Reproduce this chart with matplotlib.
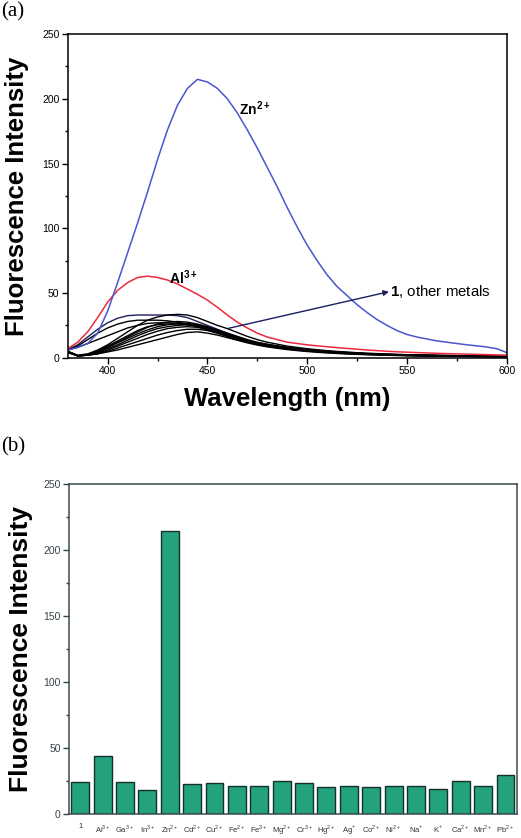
import matplotlib
matplotlib.use("Agg")
import matplotlib.pyplot as plt
import numpy as np
from matplotlib.ticker import MultipleLocator

plt.rcParams['font.family'] = ['Liberation Sans', 'DejaVu Sans']
plt.rcParams['mathtext.fontset'] = 'custom'
plt.rcParams['mathtext.rm'] = 'Liberation Sans'
plt.rcParams['mathtext.bf'] = 'Liberation Sans:bold'

# ---------------- data: panel (a) ----------------
wavelength = list(range(380, 601, 5))

zn_spectrum = [6, 8, 11, 19, 36, 58, 81, 104, 128, 153, 176, 195, 208, 215, 213,
               208, 200, 189, 176, 162, 147, 132, 116, 101, 87, 75, 64, 55, 48,
               41, 35, 29.5, 25, 21, 18, 16, 14.5, 13, 12, 11, 10, 9.2, 8.3, 7, 4]

al_spectrum = [7, 12, 20, 31, 43, 52, 58, 62, 63, 62, 60, 57, 53, 49, 44.5,
               39, 33, 27.5, 23, 19, 16, 14, 12, 11, 10, 9.2, 8.5, 7.8, 7.2,
               6.6, 6, 5.5, 5, 4.6, 4.3, 4, 3.7, 3.4, 3.2, 3, 2.8, 2.6, 2.4, 2.2, 2]

other_spectra = [
    [6.5, 10, 16, 22, 27, 30.5, 32.5, 33, 33, 33, 33, 32.5, 31, 28, 25,
     22, 19, 16, 13.5, 11.5, 10, 9, 8, 7, 6.3, 5.7, 5.1, 4.6, 4.1,
     3.7, 3.3, 3, 2.7, 2.5, 2.3, 2.1, 1.9, 1.8, 1.7, 1.6, 1.5, 1.4, 1.3, 1.2, 1.1],
    [5, 2, 3, 6, 10, 15, 20, 25, 29, 31.5, 33, 33.5, 33, 31, 28,
     25, 22.5, 19.5, 16.5, 14, 12, 10.5, 9, 8, 7, 6.2, 5.5, 4.9, 4.4,
     3.9, 3.5, 3.2, 2.9, 2.6, 2.4, 2.2, 2, 1.9, 1.8, 1.7, 1.6, 1.5, 1.4, 1.3, 1.2],
    [6, 9, 14, 19, 23, 26, 28, 29, 29, 29, 28.5, 27.5, 26, 24, 21.5,
     19, 16.5, 14, 12, 10.5, 9.2, 8.2, 7.3, 6.5, 5.8, 5.2, 4.6, 4.1, 3.7,
     3.3, 3, 2.7, 2.5, 2.3, 2.1, 1.9, 1.8, 1.7, 1.6, 1.5, 1.4, 1.3, 1.2, 1.1, 1],
    [6, 8, 11, 14, 17, 20, 23, 25, 26.5, 27, 27, 26.5, 25.5, 24, 22,
     19.5, 17, 14.5, 12.5, 10.8, 9.5, 8.4, 7.5, 6.6, 5.9, 5.3, 4.7, 4.2, 3.8,
     3.4, 3.1, 2.8, 2.5, 2.3, 2.1, 1.9, 1.8, 1.7, 1.6, 1.5, 1.4, 1.3, 1.2, 1.1, 1],
    [5, 1.5, 2, 5, 8.5, 12, 16, 20, 23.5, 26, 27.5, 28, 27.5, 26, 24,
     21.5, 19, 16.5, 14, 12, 10.5, 9.2, 8, 7, 6.2, 5.5, 4.9, 4.4, 3.9,
     3.5, 3.1, 2.8, 2.5, 2.3, 2.1, 1.9, 1.8, 1.6, 1.5, 1.4, 1.3, 1.2, 1.1, 1, 1],
    [5, 1.5, 2, 4.5, 8, 11.5, 15, 18.5, 21.5, 24, 25.5, 26.5, 26.5, 25.5, 23.5,
     21, 18.5, 16, 13.5, 11.6, 10.2, 8.9, 7.8, 6.9, 6.1, 5.4, 4.8, 4.3, 3.8,
     3.4, 3, 2.7, 2.4, 2.2, 2, 1.8, 1.7, 1.6, 1.5, 1.4, 1.3, 1.2, 1.1, 1, 0.9],
    [4.5, 1.5, 2, 4, 7, 10, 13.5, 17, 20, 22.5, 24, 25, 25.5, 25, 23,
     20.5, 18, 15.5, 13, 11.2, 9.8, 8.6, 7.5, 6.6, 5.8, 5.2, 4.6, 4.1, 3.6,
     3.2, 2.9, 2.6, 2.3, 2.1, 1.9, 1.7, 1.6, 1.5, 1.4, 1.3, 1.2, 1.1, 1, 0.9, 0.8],
    [4.5, 1.5, 2, 3.5, 6, 9, 12, 15, 18, 20.5, 22.5, 23.5, 24, 23.5, 22,
     19.5, 17, 14.5, 12.5, 10.7, 9.3, 8.1, 7.1, 6.2, 5.5, 4.9, 4.3, 3.8, 3.4,
     3, 2.7, 2.4, 2.2, 2, 1.8, 1.6, 1.5, 1.4, 1.3, 1.2, 1.1, 1, 0.9, 0.8, 0.8],
    [4, 1.5, 2, 3, 5, 7.5, 10, 12.5, 15, 17.5, 19.5, 21, 22, 22, 21,
     19, 16.5, 14, 12, 10.2, 8.8, 7.7, 6.7, 5.9, 5.2, 4.6, 4.1, 3.6, 3.2,
     2.9, 2.6, 2.3, 2.1, 1.9, 1.7, 1.6, 1.5, 1.4, 1.3, 1.2, 1.1, 1, 0.9, 0.8, 0.7],
    [4, 1.5, 2, 3, 4.5, 6, 8, 10, 12, 14, 16, 18, 19.5, 20, 19,
     17.5, 15.5, 13.5, 11.5, 9.8, 8.4, 7.3, 6.3, 5.5, 4.8, 4.2, 3.7, 3.3, 2.9,
     2.6, 2.3, 2.1, 1.9, 1.7, 1.5, 1.4, 1.3, 1.2, 1.1, 1, 0.9, 0.8, 0.8, 0.7, 0.7],
    [4.5, 1.5, 2.5, 5, 9, 13, 17, 21, 24, 25.5, 26, 26, 25.5, 24.5, 23,
     20.5, 18, 15.5, 13.2, 11.3, 9.8, 8.6, 7.5, 6.6, 5.9, 5.2, 4.6, 4.1, 3.7,
     3.3, 3, 2.7, 2.4, 2.2, 2, 1.8, 1.7, 1.6, 1.5, 1.4, 1.3, 1.2, 1.1, 1, 0.9],
]
other_colors = ['#1c1f5c'] + ['black'] * 10

# ---------------- data: panel (b) ----------------
ions = ['1', r'Al$^{3+}$', r'Ga$^{3+}$', r'In$^{3+}$', r'Zn$^{2+}$', r'Cd$^{2+}$',
        r'Cu$^{2+}$', r'Fe$^{2+}$', r'Fe$^{3+}$', r'Mg$^{2+}$', r'Cr$^{3+}$',
        r'Hg$^{2+}$', r'Ag$^{+}$', r'Co$^{2+}$', r'Ni$^{2+}$', r'Na$^{+}$',
        r'K$^{+}$', r'Ca$^{2+}$', r'Mn$^{2+}$', r'Pb$^{2+}$']
intensity = [24.7, 44.4, 24.7, 18.2, 214.9, 23.2, 24.0, 21.7, 21.2, 25.5,
             24.0, 20.7, 21.7, 20.7, 21.2, 21.7, 19.2, 25.5, 21.7, 29.8]

# ---------------- figure ----------------
fig = plt.figure(figsize=(5.21, 8.38), dpi=100)

# panel (a)
ax1 = fig.add_axes([0.130, 0.5731, 0.8425, 0.3863])
for spec, c in zip(other_spectra, other_colors):
    ax1.plot(wavelength, spec, color=c, lw=1.0)
ax1.plot(wavelength, al_spectrum, color='#ee2a3a', lw=1.1)
ax1.plot(wavelength, zn_spectrum, color='#4a55d0', lw=1.1)
ax1.set_xlim(380, 600)
ax1.set_ylim(0, 250)
ax1.xaxis.set_major_locator(MultipleLocator(50))
ax1.xaxis.set_minor_locator(MultipleLocator(25))
ax1.yaxis.set_major_locator(MultipleLocator(50))
ax1.yaxis.set_minor_locator(MultipleLocator(25))
ax1.tick_params(which='both', direction='out', top=False, right=False,
                labelsize=7.5, width=1)
ax1.tick_params(which='major', length=4, pad=2)
ax1.tick_params(which='minor', length=2.5)
for s in ax1.spines.values():
    s.set_linewidth(1.1)
ax1.set_xlabel('Wavelength (nm)', fontsize=18.5, fontweight='bold', labelpad=8)
ax1.set_ylabel('Fluorescence Intensity', fontsize=18.5, fontweight='bold')
ax1.yaxis.set_label_coords(-0.088, 0.5)
ax1.text(466, 192, r'Zn$^{\mathbf{2+}}$', fontsize=10, fontweight='bold', ha='left', va='center')
ax1.text(431, 62, r'Al$^{\mathbf{3+}}$', fontsize=10, fontweight='bold', ha='left', va='center')
ax1.annotate('', xy=(541, 51), xytext=(460.5, 22.7),
             arrowprops=dict(arrowstyle='-|>', color='#1a2060', lw=1.0,
                             mutation_scale=8, shrinkA=0, shrinkB=0))
ax1.text(541.5, 51, r'$\mathbf{1}$, other metals', fontsize=10.8, ha='left', va='center')
fig.text(0.002, 0.997, '(a)', fontsize=15, family='Liberation Serif', ha='left', va='top')

# panel (b)
ax2 = fig.add_axes([0.1324, 0.0283, 0.8593, 0.3938])
xpos = np.arange(len(ions))
ax2.bar(xpos, intensity, width=0.8, color='#23a27d', edgecolor='#17302a', linewidth=1.0)
ax2.set_xlim(-0.5, len(ions) - 0.5)
ax2.set_ylim(0, 250)
ax2.set_xticks(xpos)
ax2.set_xticklabels(ions, fontsize=5.5)
ax2.yaxis.set_major_locator(MultipleLocator(50))
ax2.yaxis.set_minor_locator(MultipleLocator(25))
ax2.tick_params(axis='x', length=0, pad=6, colors='#333333')
ax2.tick_params(axis='y', which='both', direction='out', labelsize=7.5,
                colors='#33434a', width=1)
ax2.tick_params(axis='y', which='major', length=4, pad=2)
ax2.tick_params(axis='y', which='minor', length=2.5)
for s in ax2.spines.values():
    s.set_linewidth(1.1)
    s.set_color('#3a4a50')
ax2.set_ylabel('Fluorescence Intensity', fontsize=19, fontweight='bold', color='black')
ax2.yaxis.set_label_coords(-0.08, 0.5)
fig.text(0.002, 0.478, '(b)', fontsize=15, family='Liberation Serif', ha='left', va='top')

fig.savefig('out.png', dpi=100)
